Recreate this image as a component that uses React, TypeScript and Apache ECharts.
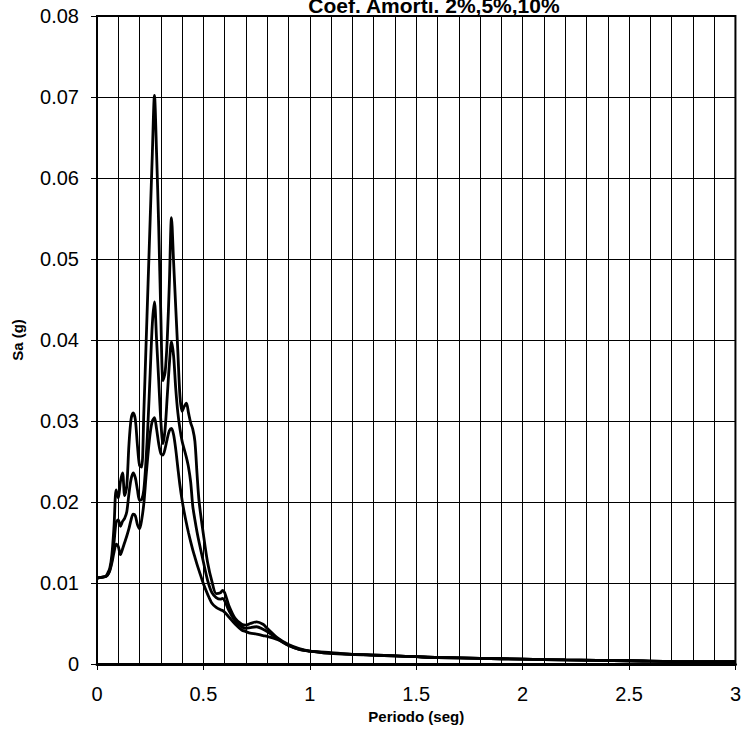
import React, { useEffect, useRef } from "react";
import * as echarts from "echarts";

const titleText = "Coef. Amorti. 2%,5%,10%";
const xName = "Periodo (seg)";
const yName = "Sa (g)";

const periods = [
  0, 0.02, 0.04, 0.05, 0.06, 0.07, 0.08, 0.09, 0.1, 0.11, 0.12, 0.13, 0.14, 0.15, 0.16, 0.17, 0.18, 0.19, 0.2,
  0.21, 0.22, 0.23, 0.24, 0.25, 0.26, 0.27, 0.28, 0.29, 0.3, 0.31, 0.32, 0.33, 0.34, 0.35, 0.36, 0.37, 0.38,
  0.39, 0.4, 0.41, 0.42, 0.43, 0.44, 0.45, 0.46, 0.47, 0.48, 0.5, 0.52, 0.54, 0.56, 0.58, 0.59, 0.6, 0.62,
  0.65, 0.68, 0.7, 0.72, 0.75, 0.78, 0.8, 0.85, 0.9, 0.95, 1.0, 1.1, 1.2, 1.3, 1.4, 1.5, 1.6, 1.8, 2.0, 2.2,
  2.5, 2.8, 3.0,
];

const sa2 = [
  0.0106, 0.0107, 0.0108, 0.0112, 0.0118, 0.0135, 0.017, 0.0215, 0.0205, 0.0225, 0.0236, 0.0208, 0.022, 0.027,
  0.0302, 0.031, 0.0302, 0.027, 0.0245, 0.0243, 0.031, 0.039, 0.047, 0.055, 0.063, 0.0702, 0.063, 0.054, 0.043,
  0.035, 0.036, 0.04, 0.047, 0.0551, 0.0496, 0.044, 0.0385, 0.033, 0.0312, 0.0318, 0.0322, 0.031, 0.0298, 0.029,
  0.0275, 0.0235, 0.02, 0.016, 0.0125, 0.0102, 0.0087, 0.0088, 0.0091, 0.0088, 0.0072, 0.0056, 0.0049, 0.0048,
  0.005, 0.0052, 0.0049, 0.0044, 0.0032, 0.0024, 0.0019, 0.0016, 0.0014, 0.0012, 0.0011, 0.001, 0.0009, 0.0008,
  0.0007, 0.0006, 0.0005, 0.0004, 0.0003, 0.0003,
];

const sa5 = [
  0.0106, 0.0107, 0.0108, 0.011, 0.0116, 0.0128, 0.015, 0.0175, 0.0178, 0.017, 0.0176, 0.018, 0.0188, 0.021,
  0.0228, 0.0236, 0.023, 0.0215, 0.0202, 0.0203, 0.0215, 0.025, 0.03, 0.036, 0.042, 0.0447, 0.04, 0.035, 0.03,
  0.0272, 0.029, 0.033, 0.037, 0.0398, 0.038, 0.034, 0.031, 0.029, 0.0275, 0.0265, 0.0255, 0.0243, 0.0225,
  0.0195, 0.0178, 0.0163, 0.015, 0.0126, 0.0103, 0.0088, 0.0082, 0.008, 0.0081, 0.0078, 0.0066, 0.0053, 0.0046,
  0.0044, 0.0045, 0.0046, 0.0043, 0.004, 0.0031, 0.0023, 0.0018, 0.0016, 0.0013, 0.0012, 0.0011, 0.001, 0.0009,
  0.0008, 0.0007, 0.0006, 0.0005, 0.0004, 0.0003, 0.0003,
];

const sa10 = [
  0.0106, 0.0107, 0.0108, 0.011, 0.0115, 0.0125, 0.0138, 0.0148, 0.0145, 0.0135, 0.0142, 0.015, 0.0158, 0.0167,
  0.0178, 0.0185, 0.0183, 0.0172, 0.0167, 0.0178, 0.0198, 0.023, 0.026, 0.0285, 0.03, 0.0304, 0.029, 0.0272,
  0.026, 0.0258, 0.0266, 0.0278, 0.0288, 0.0291, 0.0283, 0.0265, 0.0242, 0.022, 0.0202, 0.0187, 0.0174, 0.0162,
  0.0151, 0.0141, 0.0132, 0.0123, 0.0115, 0.0099, 0.0086, 0.0075, 0.007, 0.0067, 0.0066, 0.0064, 0.0058, 0.0049,
  0.0042, 0.004, 0.0038, 0.0037, 0.0035, 0.0034, 0.003, 0.0023, 0.0018, 0.0016, 0.0013, 0.0012, 0.0011, 0.001,
  0.0009, 0.0008, 0.0007, 0.0006, 0.0005, 0.0004, 0.0003, 0.0003,
];

const seriesList = [
  { name: "2%", values: sa2 },
  { name: "5%", values: sa5 },
  { name: "10%", values: sa10 },
];

const FONT = "'Liberation Sans', Arial, sans-serif";

export default function App() {
  const ref = useRef<HTMLDivElement>(null);
  useEffect(() => {
    if (!ref.current) return;
    const chart = echarts.init(ref.current, undefined, { renderer: "svg" });
    chart.setOption({
      animation: false,
      backgroundColor: "#fff",
      textStyle: { fontFamily: FONT },
      grid: {
        left: 97,
        right: 4,
        top: 16,
        bottom: 77,
        show: true,
        borderColor: "#000",
        borderWidth: 2,
        backgroundColor: "transparent",
      },
      graphic: [
        {
          type: "text",
          x: 434,
          y: 5,
          style: {
            text: titleText,
            font: `bold 21px ${FONT}`,
            fill: "#000",
            textAlign: "center",
            textVerticalAlign: "middle",
          },
        },
      ],
      xAxis: {
        type: "value",
        min: 0,
        max: 3,
        interval: 0.5,
        name: xName,
        nameLocation: "middle",
        nameGap: 41,
        nameTextStyle: { fontFamily: FONT, fontWeight: "bold", fontSize: 15, color: "#000" },
        axisLine: { show: true, onZero: false, lineStyle: { color: "#000", width: 3 } },
        axisTick: { show: true, length: 6, lineStyle: { color: "#000", width: 1 } },
        axisLabel: {
          margin: 20,
          fontSize: 20,
          color: "#000",
          fontFamily: FONT,
          formatter: (v: number) => String(v),
        },
        splitLine: { show: true, lineStyle: { color: "#000", width: 1 } },
        minorTick: { show: false, splitNumber: 5 },
        minorSplitLine: { show: true, lineStyle: { color: "#000", width: 1 } },
      },
      yAxis: {
        type: "value",
        min: 0,
        max: 0.08,
        interval: 0.01,
        name: yName,
        nameLocation: "middle",
        nameGap: 72,
        nameTextStyle: { fontFamily: FONT, fontWeight: "bold", fontSize: 15, color: "#000" },
        axisLine: { show: true, lineStyle: { color: "#000", width: 2 } },
        axisTick: { show: true, length: 6, lineStyle: { color: "#000", width: 1 } },
        axisLabel: {
          margin: 18,
          fontSize: 20,
          color: "#000",
          fontFamily: FONT,
          formatter: (v: number) => (v === 0 ? "0" : v.toFixed(2)),
        },
        splitLine: { show: true, lineStyle: { color: "#000", width: 1 } },
      },
      series: seriesList.map((s) => ({
        name: s.name,
        type: "line",
        data: periods.map((t, i) => [t, s.values[i]]),
        showSymbol: false,
        symbol: "none",
        smooth: 0.3,
        lineStyle: { color: "#000", width: 2.8 },
        z: 5,
      })),
    });
    return () => chart.dispose();
  }, []);
  return (
    <div
      ref={ref}
      style={{ position: "fixed", left: 0, top: 0, width: 744, height: 741, background: "#fff" }}
    />
  );
}
